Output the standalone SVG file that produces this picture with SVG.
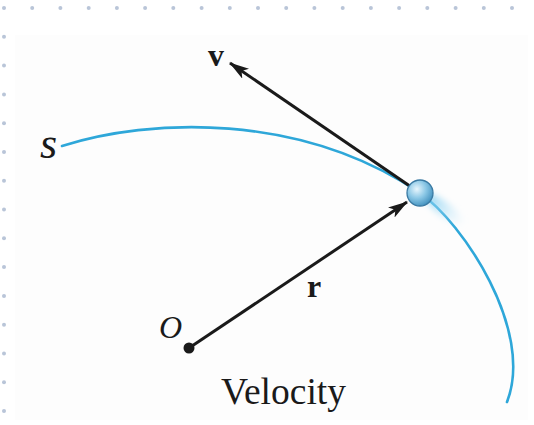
<svg xmlns="http://www.w3.org/2000/svg" width="534" height="425" viewBox="0 0 534 425">
  <style>
    .dot { fill: #b9c5d8; }
    .lbl { font-family: "Liberation Serif", "Times New Roman", serif; fill: #1a1a1a; }
    .vec { stroke: #1a1a1a; stroke-width: 3; fill: none; }
    .path { stroke: #2ea7d9; stroke-width: 2.6; fill: none; stroke-linecap: round; }
  </style>
  <defs>
    <marker id="arrow" viewBox="0 0 20 12" refX="19" refY="6" markerWidth="20" markerHeight="12" markerUnits="userSpaceOnUse" orient="auto">
      <path d="M0,0 L20,6 L0,12 L5,6 Z" fill="#1a1a1a"/>
    </marker>
    <radialGradient id="ball" cx="0.38" cy="0.35" r="0.7">
      <stop offset="0" stop-color="#e8f6fd"/>
      <stop offset="0.5" stop-color="#8cc8e6"/>
      <stop offset="1" stop-color="#3f8fbd"/>
    </radialGradient>
    <linearGradient id="glow" x1="0" y1="0" x2="1" y2="0">
      <stop offset="0" stop-color="#7fcdf0" stop-opacity="0.9"/>
      <stop offset="1" stop-color="#bfe6f8" stop-opacity="0"/>
    </linearGradient>
    <filter id="blur" x="-50%" y="-50%" width="200%" height="200%">
      <feGaussianBlur stdDeviation="3"/>
    </filter>
  </defs>

  <rect x="15" y="35" width="513" height="385" fill="#fdfdfd"/>

  <g id="grid-dots">
    <circle class="dot" cx="4" cy="8" r="2"/>
    <circle class="dot" cx="32.2" cy="8" r="2"/>
    <circle class="dot" cx="60.4" cy="8" r="2"/>
    <circle class="dot" cx="88.7" cy="8" r="2"/>
    <circle class="dot" cx="116.9" cy="8" r="2"/>
    <circle class="dot" cx="145.1" cy="8" r="2"/>
    <circle class="dot" cx="173.3" cy="8" r="2"/>
    <circle class="dot" cx="201.6" cy="8" r="2"/>
    <circle class="dot" cx="229.8" cy="8" r="2"/>
    <circle class="dot" cx="258" cy="8" r="2"/>
    <circle class="dot" cx="286.2" cy="8" r="2"/>
    <circle class="dot" cx="314.4" cy="8" r="2"/>
    <circle class="dot" cx="342.7" cy="8" r="2"/>
    <circle class="dot" cx="370.9" cy="8" r="2"/>
    <circle class="dot" cx="399.1" cy="8" r="2"/>
    <circle class="dot" cx="427.3" cy="8" r="2"/>
    <circle class="dot" cx="455.6" cy="8" r="2"/>
    <circle class="dot" cx="483.8" cy="8" r="2"/>
    <circle class="dot" cx="512" cy="8" r="2"/>
    <circle class="dot" cx="4" cy="36.8" r="2"/>
    <circle class="dot" cx="4" cy="65.6" r="2"/>
    <circle class="dot" cx="4" cy="94.4" r="2"/>
    <circle class="dot" cx="4" cy="123.2" r="2"/>
    <circle class="dot" cx="4" cy="152" r="2"/>
    <circle class="dot" cx="4" cy="180.7" r="2"/>
    <circle class="dot" cx="4" cy="209.5" r="2"/>
    <circle class="dot" cx="4" cy="238.3" r="2"/>
    <circle class="dot" cx="4" cy="267.1" r="2"/>
    <circle class="dot" cx="4" cy="295.9" r="2"/>
    <circle class="dot" cx="4" cy="324.7" r="2"/>
    <circle class="dot" cx="4" cy="353.5" r="2"/>
    <circle class="dot" cx="4" cy="382.3" r="2"/>
    <circle class="dot" cx="4" cy="411.1" r="2"/>
  </g>

  <g id="path-s">
    <path class="path" d="M62,146 C150,118 300,112 420,193 C462,222 535,330 507,402"/>
    <text class="lbl" x="40" y="158" font-size="44" font-style="italic">s</text>
  </g>

  <g id="connectors">
    <line class="vec" x1="420" y1="193" x2="230" y2="63" marker-end="url(#arrow)"/>
    <line class="vec" x1="189" y1="348" x2="407" y2="202" marker-end="url(#arrow)"/>
  </g>

  <g id="particle">
    <ellipse cx="445" cy="210" rx="24" ry="7" fill="url(#glow)" filter="url(#blur)" transform="rotate(38 445 210)"/>
    <circle cx="420" cy="193" r="13" fill="url(#ball)" stroke="#3a7aa3" stroke-width="1.3"/>
  </g>

  <g id="origin">
    <circle cx="189" cy="348" r="5.5" fill="#1a1a1a"/>
    <text class="lbl" x="159" y="338" font-size="32" font-style="italic">O</text>
  </g>

  <g id="labels">
    <text class="lbl" x="208" y="66" font-size="32" font-weight="bold">v</text>
    <text class="lbl" x="307" y="297" font-size="32" font-weight="bold">r</text>
    <text class="lbl" x="221" y="404" font-size="37.5" fill="#222">Velocity</text>
  </g>
</svg>
